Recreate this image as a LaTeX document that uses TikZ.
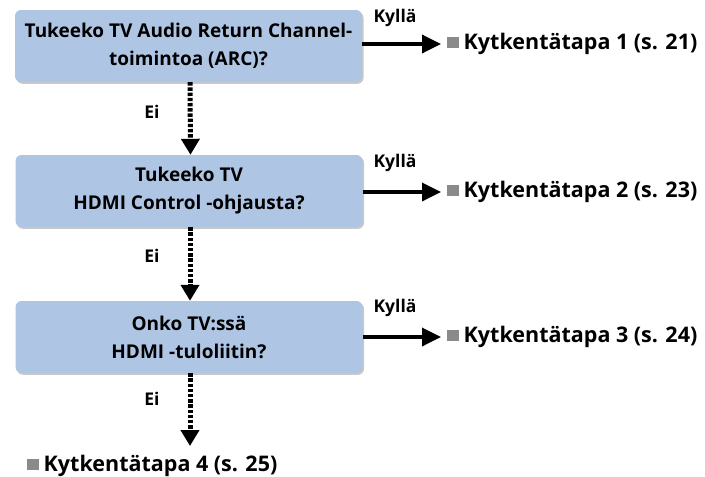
\documentclass[tikz,border=0pt]{standalone}
\usepackage{fontspec}
\setmainfont{Open Sans}
\usetikzlibrary{arrows.meta}
\definecolor{boxblue}{HTML}{AFC5E4}
\definecolor{shadowgray}{HTML}{C8C8C8}
\definecolor{bulletgray}{HTML}{8A8A8A}
\newcommand{\sqbullet}{\textcolor{bulletgray}{\raisebox{1.5pt}{\rule{11.5pt}{11.5pt}}}\hspace{5pt}}
\tikzset{
  qbox/.style={rectangle, rounded corners=6pt, fill=boxblue, minimum width=347pt, minimum height=72pt,
    align=center, font=\fontsize{19}{28}\selectfont\bfseries, inner sep=0pt,
    preaction={fill=shadowgray, transform canvas={xshift=1.5pt,yshift=-1.8pt}}},
  result/.style={anchor=west, inner sep=0pt, font=\fontsize{21.5}{24}\selectfont\bfseries},
  lbl/.style={inner sep=0pt, font=\fontsize{17.5}{20}\selectfont\bfseries},
  yesarrow/.style={line width=3.5pt, -{Triangle[length=19pt,width=18pt]}, shorten >=6pt},
  noarrow/.style={line width=5pt, dash pattern=on 3.4pt off 1.8pt, -{Triangle[length=16pt,width=18pt]}}
}
\begin{document}
\begin{tikzpicture}[x=1pt,y=-1pt]
\useasboundingbox (0,0) rectangle (705,477);
\node[qbox] (b1) at (188.5,46) {Tukeeko TV Audio Return Channel-\\toimintoa (ARC)?};
\node[qbox] (b2) at (189,191) {Tukeeko TV\\HDMI Control -ohjausta?};
\node[qbox] (b3) at (189,337) {Onko TV:ssä\\HDMI -tuloliitin?};
\node[result] (r1) at (447,44) {\sqbullet Kytkentätapa 1 (s. 21)};
\node[result] (r2) at (447,192) {\sqbullet Kytkentätapa 2 (s. 23)};
\node[result] (r3) at (447,337) {\sqbullet Kytkentätapa 3 (s. 24)};
\node[result] (r4) at (27,466) {\sqbullet Kytkentätapa 4 (s. 25)};
\coordinate (e4) at (190,446);
\node[lbl] (k1) at (395,18) {Kyllä};
\node[lbl] (k2) at (395,163) {Kyllä};
\node[lbl] (k3) at (395,308) {Kyllä};
\node[lbl] (n1) at (152,112) {Ei};
\node[lbl] (n2) at (152,256) {Ei};
\node[lbl] (n3) at (152,399) {Ei};
\draw[yesarrow] (b1.east |- r1.west) -- (r1.west);
\draw[yesarrow] (b2.east |- r2.west) -- (r2.west);
\draw[yesarrow] (b3.east |- r3.west) -- (r3.west);
\draw[noarrow] ([xshift=1.5pt]b1.south) -- ([xshift=1.5pt]b2.north);
\draw[noarrow] ([xshift=1pt]b2.south) -- ([xshift=1pt]b3.north);
\draw[noarrow] (b3.south -| e4) -- (e4);
\end{tikzpicture}
\end{document}
